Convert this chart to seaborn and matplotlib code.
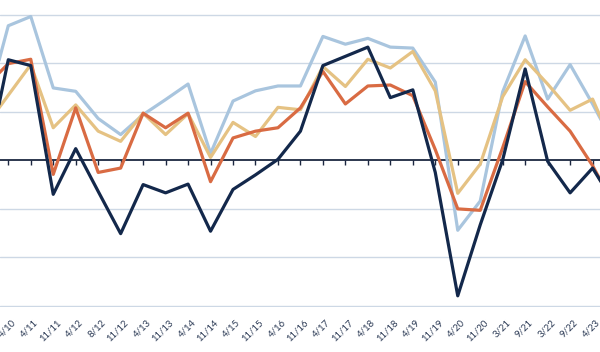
import numpy as np
import pandas as pd
import matplotlib
matplotlib.use("Agg")
import matplotlib.pyplot as plt
import matplotlib.transforms as mtransforms
import seaborn as sns

# ---- data ----
labels = ["11/09", "4/10", "4/11", "11/11", "4/12", "8/12", "11/12", "4/13", "11/13",
          "4/14", "11/14", "4/15", "11/15", "4/16", "11/16", "4/17", "11/17", "4/18",
          "11/18", "4/19", "11/19", "4/20", "11/20", "3/21", "9/21", "3/22", "9/22",
          "4/23", "10/23"]

light_blue = [10.4, 27.7, 29.6, 14.9, 14.2, 8.6, 5.3, 9.4, 12.5, 15.7, 1.4, 12.2, 14.3,
              15.3, 15.3, 25.5, 23.9, 25.1, 23.3, 23.1, 16.1, -14.4, -8.4, 14.1, 25.6,
              12.6, 19.7, 11.6, 2.9]
tan = [7.1, 13.4, 19.7, 6.7, 11.4, 6.0, 3.9, 9.7, 5.3, 9.6, 0.6, 7.8, 4.9, 10.9, 10.4,
       19.3, 15.2, 20.8, 19.0, 22.4, 14.3, -6.8, -0.8, 13.1, 20.7, 15.7, 10.3, 12.6, 2.1]
orange = [15.2, 19.9, 20.8, -2.9, 10.8, -2.5, -1.6, 9.7, 6.7, 9.7, -4.4, 4.6, 6.0, 6.7,
          10.8, 18.3, 11.6, 15.3, 15.5, 13.3, 2.2, -10.0, -10.3, 2.6, 16.2, 11.0, 6.0,
          -1.1, -9.7]
navy = [-1.5, 20.7, 19.5, -7.0, 2.4, -6.4, -15.1, -5.0, -6.7, -4.9, -14.6, -6.0, -3.0,
        0.2, 6.0, 19.5, 21.4, 23.3, 12.9, 14.5, -2.5, -27.9, -13.3, 0.1, 18.8, -0.2,
        -6.7, -1.6, -9.1]

series_names = ["A", "B", "C", "D"]
colors = ["#a9c5de", "#e5c283", "#d96b43", "#13284b"]

pos = np.arange(len(labels)) - 1  # first category sits just off the left edge

frames = []
for name, vals in zip(series_names, [light_blue, tan, orange, navy]):
    frames.append(pd.DataFrame({"pos": pos, "value": vals, "series": name}))
df = pd.concat(frames, ignore_index=True)

sns.set_style("white")
plt.rcParams["font.family"] = ["Lato", "DejaVu Sans"]

fig = plt.figure(figsize=(6.0, 3.52), dpi=100)
ax = fig.add_axes([0.0, 45 / 352, 1.0, 307 / 352])

sns.lineplot(data=df, x="pos", y="value", hue="series", palette=colors,
             hue_order=series_names, linewidth=2.3, legend=False, ax=ax,
             sort=False, estimator=None)

ylo, yhi = -30.2, 33.0
XLIM = (-0.369, 26.33)

# gridlines
ax.set_yticks([-30, -20, -10, 10, 20, 30])
ax.yaxis.grid(True, color="#cdd8e5", linewidth=1.0)
ax.xaxis.grid(False)
ax.tick_params(axis="y", length=0, labelleft=False)
ax.set_axisbelow(True)

for sp in ax.spines.values():
    sp.set_visible(False)

ax.set_xticks(pos)
ax.set_xticklabels(labels, rotation=45, ha="right", rotation_mode="anchor",
                   fontsize=6.9, color="#2b3a55")
ax.tick_params(axis="x", length=0, pad=8)
shift = mtransforms.ScaledTranslation(3 / 100, 0, fig.dpi_scale_trans)
for lab in ax.get_xticklabels():
    lab.set_transform(lab.get_transform() + shift)
ax.set_xlabel("")
ax.set_ylabel("")

# zero line with tick marks
zero_frac = (0 - ylo) / (yhi - ylo)
sec = ax.secondary_xaxis(zero_frac)
sec.set_xticks(pos)
sec.tick_params(axis="x", direction="out", length=3.5, width=1.0, color="#1b2740",
                labelbottom=False, labeltop=False)
sec.spines["bottom"].set_color("#1b2740")
sec.spines["bottom"].set_linewidth(1.3)
for s in ["top", "left", "right"]:
    if s in sec.spines:
        sec.spines[s].set_visible(False)

ax.set_ylim(ylo, yhi)
ax.set_xlim(*XLIM)

fig.savefig("out.png", dpi=100)
